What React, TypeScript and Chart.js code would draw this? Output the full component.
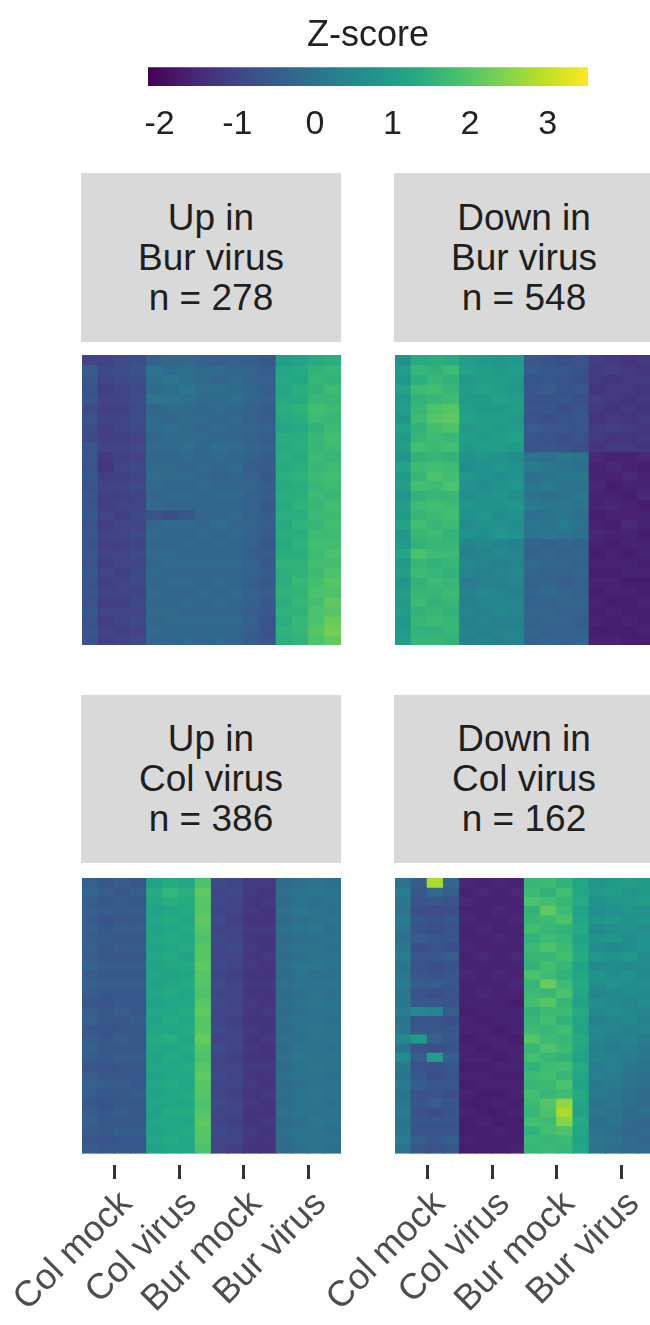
import React, { useEffect, useRef } from "react";
import { Chart, registerables } from "chart.js";

Chart.register(...registerables);

const FONT = "'Liberation Sans', Arial, Helvetica, sans-serif";
Chart.defaults.font.family = FONT;

// ---------------- data ----------------
const conditions = ["Col mock", "Col virus", "Bur mock", "Bur virus"];
const REPS = 4; // replicate sub-columns per condition
const zMin = -2.15;
const zMax = 3.52;
const zTicks = [-2, -1, 0, 1, 2, 3];
const colorbarTitle = "Z-score";
const viridisStops = [
  "#440154", "#482475", "#414487", "#355f8d", "#2a788e", "#21918c",
  "#22a884", "#44bf70", "#7ad151", "#bddf26", "#fde725",
];

const panelTitles = [
  ["Up in", "Bur virus", "n = 278"],
  ["Down in", "Bur virus", "n = 548"],
  ["Up in", "Col virus", "n = 386"],
  ["Down in", "Col virus", "n = 162"],
];

// rows (top to bottom) x 16 sub-columns (4 conditions x 4 replicates), z-scores
const upInBurVirus = [
  [-1.0,-1.0,-0.9,-0.8, -0.4,-0.3,-0.3,-0.4, -0.5,-0.4,-0.5,-0.6, 1.0,1.1,1.3,1.4],
  [-0.5,-0.9,-0.8,-0.7, 0.0,-0.2,-0.1,-0.2, -0.2,-0.3,-0.3,-0.5, 1.2,1.3,1.5,1.6],
  [-0.6,-1.0,-0.9,-0.8, -0.1,0.1,-0.1,-0.2, -0.3,-0.2,-0.4,-0.4, 1.3,1.2,1.6,1.5],
  [-0.7,-1.1,-1.0,-0.9, -0.2,-0.1,0.1,-0.1, -0.1,-0.2,-0.3,-0.5, 1.2,1.4,1.5,1.7],
  [-0.6,-1.0,-1.0,-0.8, 0.1,0.0,-0.1,-0.2, -0.2,-0.1,-0.3,-0.4, 1.3,1.3,1.6,1.6],
  [-0.8,-1.1,-1.1,-0.9, -0.3,-0.2,-0.2,-0.3, -0.2,-0.3,-0.4,-0.5, 1.4,1.5,1.8,1.7],
  [-0.7,-1.0,-1.0,-0.8, -0.2,-0.3,-0.2,-0.2, -0.3,-0.2,-0.4,-0.5, 1.3,1.4,1.7,1.6],
  [-0.8,-1.1,-1.0,-0.9, -0.2,-0.1,-0.2,-0.3, -0.2,-0.3,-0.3,-0.4, 1.2,1.3,1.5,1.7],
  [-0.9,-1.1,-1.1,-1.0, -0.3,-0.2,-0.2,-0.2, -0.3,-0.3,-0.4,-0.5, 1.4,1.4,1.6,1.8],
  [-0.6,-1.0,-1.0,-0.9, -0.2,-0.2,-0.1,-0.3, -0.1,-0.2,-0.3,-0.4, 1.3,1.4,1.6,1.7],
  [-0.6,-1.2,-1.1,-1.0, -0.3,-0.3,-0.2,-0.3, -0.2,-0.3,-0.4,-0.5, 1.4,1.3,1.7,1.6],
  [-0.7,-1.3,-1.0,-0.9, -0.2,-0.2,-0.3,-0.2, -0.3,-0.2,-0.5,-0.5, 1.3,1.4,1.6,1.7],
  [-0.6,-1.1,-1.1,-1.0, -0.1,-0.2,-0.2,-0.3, -0.4,-0.3,-0.4,-0.6, 1.4,1.5,1.7,1.8],
  [-0.7,-1.0,-1.0,-0.9, -0.2,-0.3,-0.3,-0.2, -0.3,-0.3,-0.3,-0.5, 1.3,1.4,1.6,1.7],
  [-0.6,-1.1,-1.1,-1.0, -0.3,-0.2,-0.2,-0.3, -0.2,-0.2,-0.4,-0.5, 1.4,1.4,1.7,1.6],
  [-0.7,-1.1,-1.0,-1.0, -0.2,-0.3,-0.3,-0.3, -0.3,-0.3,-0.4,-0.6, 1.3,1.5,1.6,1.8],
  [-0.6,-1.0,-1.1,-0.9, -0.7,-0.8,-0.6,-0.3, -0.3,-0.2,-0.4,-0.5, 1.4,1.4,1.7,1.7],
  [-0.7,-1.1,-1.0,-1.0, -0.3,-0.2,-0.2,-0.3, -0.1,-0.3,-0.3,-0.5, 1.3,1.5,1.6,1.8],
  [-0.6,-1.0,-1.0,-0.9, -0.2,-0.3,-0.3,-0.2, -0.3,-0.2,-0.4,-0.5, 1.4,1.4,1.7,1.7],
  [-0.7,-1.1,-1.1,-1.0, -0.3,-0.3,-0.2,-0.3, -0.2,-0.3,-0.4,-0.6, 1.3,1.5,1.8,1.8],
  [-0.6,-1.0,-1.0,-0.9, -0.2,-0.2,-0.3,-0.3, -0.3,-0.3,-0.5,-0.5, 1.4,1.4,1.7,1.9],
  [-0.7,-1.1,-1.0,-1.0, -0.3,-0.2,-0.2,-0.2, -0.2,-0.2,-0.4,-0.6, 1.5,1.5,1.8,1.8],
  [-0.6,-1.0,-1.1,-0.9, -0.2,-0.3,-0.3,-0.3, -0.3,-0.3,-0.4,-0.5, 1.4,1.5,1.7,1.9],
  [-0.7,-1.1,-1.0,-0.9, -0.3,-0.2,-0.2,-0.3, -0.2,-0.3,-0.5,-0.6, 1.4,1.6,1.8,2.0],
  [-0.6,-1.0,-1.0,-1.0, -0.2,-0.3,-0.3,-0.2, -0.3,-0.2,-0.4,-0.5, 1.5,1.5,1.9,1.9],
  [-0.7,-1.1,-1.1,-0.9, -0.3,-0.3,-0.2,-0.3, -0.2,-0.3,-0.4,-0.6, 1.4,1.6,1.8,2.1],
  [-0.6,-1.0,-1.0,-1.0, -0.2,-0.2,-0.3,-0.3, -0.3,-0.3,-0.5,-0.6, 1.5,1.5,1.9,2.0],
  [-0.7,-1.1,-1.0,-0.9, -0.3,-0.2,-0.2,-0.2, -0.2,-0.2,-0.4,-0.7, 1.4,1.6,1.9,2.2],
  [-0.6,-1.0,-1.1,-1.0, -0.2,-0.3,-0.3,-0.3, -0.3,-0.3,-0.5,-0.7, 1.5,1.6,2.0,2.3],
  [-0.7,-1.1,-1.0,-0.9, -0.3,-0.3,-0.2,-0.3, -0.2,-0.3,-0.5,-0.6, 1.4,1.5,1.9,2.1],
];

const downInBurVirus = [
  [0.7,1.3,1.4,1.3, 1.0,0.9,0.8,0.9, -0.6,-0.7,-0.8,-0.7, -1.1,-1.2,-1.3,-1.2],
  [1.0,1.6,1.5,1.7, 1.1,1.0,0.9,1.0, -0.5,-0.6,-0.6,-0.7, -1.2,-1.1,-1.2,-1.3],
  [0.8,1.4,1.6,1.5, 0.9,1.0,1.0,0.9, -0.7,-0.6,-0.7,-0.8, -1.2,-1.3,-1.2,-1.2],
  [1.1,1.7,1.8,1.6, 1.0,1.1,1.0,0.8, -0.6,-0.5,-0.7,-0.6, -1.3,-1.2,-1.2,-1.3],
  [0.9,1.5,1.6,1.7, 0.9,0.9,1.1,1.0, -0.7,-0.7,-0.6,-0.8, -1.1,-1.2,-1.3,-1.2],
  [1.0,1.6,1.9,2.0, 1.0,0.9,0.9,1.0, -0.6,-0.6,-0.8,-0.7, -1.2,-1.3,-1.2,-1.3],
  [0.8,1.7,2.0,2.1, 1.1,1.0,1.0,0.9, -0.7,-0.8,-0.7,-0.6, -1.3,-1.2,-1.3,-1.2],
  [1.1,1.5,1.8,1.9, 0.9,1.0,0.9,1.0, -0.5,-0.6,-0.6,-0.7, -1.2,-1.1,-1.2,-1.3],
  [0.9,1.6,1.7,1.6, 1.0,0.9,1.0,1.1, -0.6,-0.7,-0.8,-0.7, -1.2,-1.3,-1.3,-1.2],
  [1.0,1.8,1.7,1.8, 0.9,1.0,1.0,0.9, -0.7,-0.6,-0.7,-0.8, -1.3,-1.2,-1.2,-1.3],
  [0.8,1.5,1.6,1.5, 0.7,0.8,0.7,0.6, 0.0,-0.1,0.1,0.0, -1.5,-1.6,-1.6,-1.5],
  [1.1,1.7,1.8,1.7, 0.6,0.7,0.8,0.7, 0.2,0.1,0.0,-0.1, -1.6,-1.5,-1.6,-1.7],
  [0.9,1.6,1.9,1.8, 0.8,0.7,0.6,0.7, -0.1,0.0,0.1,0.1, -1.6,-1.6,-1.5,-1.6],
  [1.0,1.8,1.7,1.9, 0.7,0.6,0.7,0.8, 0.1,0.2,0.0,0.0, -1.5,-1.7,-1.6,-1.6],
  [0.8,1.5,1.6,1.6, 0.6,0.7,0.8,0.6, 0.0,-0.1,0.0,0.1, -1.6,-1.6,-1.7,-1.5],
  [1.0,1.7,1.8,1.7, 0.8,0.7,0.7,0.8, 0.2,0.1,0.1,0.0, -1.6,-1.5,-1.6,-1.7],
  [0.9,1.6,1.7,1.8, 0.7,0.8,0.6,0.7, -0.1,0.0,0.1,-0.1, -1.7,-1.6,-1.6,-1.6],
  [1.1,1.8,1.6,1.7, 0.6,0.7,0.7,0.6, 0.1,0.0,0.2,0.0, -1.6,-1.7,-1.5,-1.6],
  [0.8,1.6,1.7,1.5, 0.7,0.6,0.8,0.7, 0.0,0.1,0.0,-0.1, -1.5,-1.6,-1.6,-1.7],
  [0.9,1.5,1.6,1.6, 0.4,0.5,0.4,0.3, -0.3,-0.4,-0.3,-0.4, -1.6,-1.7,-1.6,-1.6],
  [1.2,1.9,1.7,1.7, 0.3,0.4,0.5,0.4, -0.4,-0.3,-0.4,-0.3, -1.7,-1.6,-1.7,-1.6],
  [0.9,1.6,1.5,1.6, 0.5,0.4,0.3,0.4, -0.2,-0.3,-0.3,-0.4, -1.6,-1.6,-1.6,-1.7],
  [1.0,1.7,1.6,1.5, 0.4,0.3,0.4,0.5, -0.3,-0.4,-0.4,-0.3, -1.7,-1.7,-1.6,-1.6],
  [0.8,1.5,1.7,1.6, 0.2,0.3,0.3,0.4, -0.4,-0.3,-0.5,-0.4, -1.6,-1.6,-1.7,-1.7],
  [1.0,1.6,1.6,1.7, 0.4,0.5,0.4,0.3, -0.3,-0.2,-0.3,-0.4, -1.7,-1.6,-1.6,-1.7],
  [0.9,1.7,1.5,1.6, 0.3,0.4,0.4,0.4, -0.4,-0.4,-0.3,-0.3, -1.6,-1.7,-1.7,-1.6],
  [1.0,1.5,1.6,1.5, 0.4,0.3,0.5,0.4, -0.3,-0.3,-0.4,-0.4, -1.7,-1.6,-1.7,-1.7],
  [0.8,1.6,1.7,1.6, 0.3,0.4,0.3,0.3, -0.4,-0.3,-0.3,-0.5, -1.6,-1.7,-1.6,-1.7],
  [0.9,1.5,1.5,1.6, 0.4,0.3,0.4,0.4, -0.3,-0.4,-0.4,-0.4, -1.7,-1.7,-1.7,-1.6],
  [1.0,1.6,1.6,1.5, 0.3,0.4,0.3,0.4, -0.4,-0.3,-0.4,-0.3, -1.6,-1.6,-1.7,-1.7],
];

const upInColVirus = [
  [-0.4,-0.6,-0.5,-0.6, 1.1,1.3,1.2,1.9, -0.9,-1.0,-1.2,-1.2, -0.2,-0.1,0.0,-0.1],
  [-0.3,-0.5,-0.6,-0.5, 1.3,1.6,1.4,2.1, -1.0,-0.9,-1.2,-1.3, -0.1,0.0,0.1,0.0],
  [-0.5,-0.6,-0.5,-0.6, 1.2,1.4,1.3,2.0, -0.9,-1.0,-1.3,-1.2, -0.2,0.0,-0.1,0.0],
  [-0.4,-0.5,-0.5,-0.5, 1.1,1.2,1.3,2.0, -1.0,-1.0,-1.2,-1.3, -0.1,0.1,0.0,-0.1],
  [-0.5,-0.7,-0.6,-0.6, 1.2,1.3,1.2,2.1, -0.9,-1.1,-1.3,-1.3, -0.2,-0.1,0.0,0.0],
  [-0.4,-0.6,-0.5,-0.5, 1.1,1.2,1.3,2.0, -1.0,-1.0,-1.2,-1.2, -0.1,0.0,0.1,-0.1],
  [-0.5,-0.5,-0.6,-0.6, 1.2,1.3,1.2,1.9, -0.9,-1.0,-1.3,-1.3, -0.2,-0.1,-0.1,0.0],
  [-0.4,-0.6,-0.5,-0.5, 1.1,1.2,1.3,2.0, -1.0,-0.9,-1.2,-1.3, -0.1,0.0,0.0,-0.1],
  [-0.5,-0.6,-0.6,-0.6, 1.2,1.3,1.1,2.0, -1.0,-1.0,-1.3,-1.2, -0.2,-0.1,0.0,0.0],
  [-0.3,-0.5,-0.5,-0.5, 1.1,1.2,1.3,2.1, -0.9,-1.0,-1.2,-1.3, -0.1,0.1,0.1,0.0],
  [-0.5,-0.6,-0.6,-0.6, 1.2,1.1,1.2,2.0, -1.0,-1.1,-1.3,-1.3, -0.2,0.0,-0.1,-0.1],
  [-0.4,-0.5,-0.5,-0.5, 1.1,1.2,1.3,2.0, -0.9,-1.0,-1.2,-1.2, -0.1,0.0,0.0,0.0],
  [-0.5,-0.6,-0.6,-0.6, 1.2,1.3,1.2,1.9, -1.0,-1.0,-1.3,-1.3, -0.2,-0.1,0.0,-0.1],
  [-0.6,-0.7,-0.6,-0.6, 1.1,1.2,1.2,2.0, -0.9,-1.0,-1.2,-1.3, -0.1,0.0,0.1,0.0],
  [-0.5,-0.6,-0.5,-0.6, 1.2,1.2,1.3,2.1, -1.0,-1.0,-1.3,-1.2, -0.2,-0.1,0.0,0.0],
  [-0.4,-0.6,-0.6,-0.5, 1.1,1.3,1.2,2.0, -1.0,-1.1,-1.3,-1.3, -0.1,0.0,0.0,-0.1],
  [-0.6,-0.7,-0.6,-0.6, 1.2,1.2,1.3,2.0, -0.9,-1.0,-1.2,-1.3, -0.2,0.0,0.1,0.0],
  [-0.5,-0.6,-0.5,-0.6, 1.3,1.4,1.2,2.2, -1.0,-1.0,-1.3,-1.2, -0.1,-0.1,0.0,0.0],
  [-0.4,-0.6,-0.6,-0.6, 1.2,1.2,1.3,2.0, -0.9,-1.0,-1.2,-1.3, -0.2,0.0,0.0,-0.1],
  [-0.5,-0.6,-0.5,-0.5, 1.1,1.3,1.2,1.9, -1.0,-1.1,-1.3,-1.3, -0.1,0.1,0.0,0.0],
  [-0.6,-0.7,-0.6,-0.6, 1.2,1.2,1.3,2.0, -1.0,-1.0,-1.2,-1.2, -0.2,0.0,0.1,0.0],
  [-0.5,-0.6,-0.6,-0.6, 1.1,1.2,1.2,2.1, -0.9,-1.0,-1.3,-1.3, -0.1,0.0,0.0,-0.1],
  [-0.4,-0.5,-0.5,-0.6, 1.2,1.3,1.2,2.0, -1.0,-1.0,-1.2,-1.3, -0.2,-0.1,0.0,0.0],
  [-0.5,-0.6,-0.6,-0.5, 1.1,1.2,1.3,2.0, -1.0,-1.1,-1.3,-1.2, -0.1,0.0,0.1,0.0],
  [-0.6,-0.7,-0.6,-0.6, 1.2,1.2,1.2,1.9, -0.9,-1.0,-1.2,-1.3, -0.2,0.0,0.0,-0.1],
  [-0.5,-0.6,-0.5,-0.6, 1.1,1.3,1.3,2.0, -1.0,-1.0,-1.3,-1.3, -0.1,0.0,0.0,0.0],
  [-0.4,-0.6,-0.6,-0.6, 1.2,1.2,1.2,2.1, -1.0,-1.1,-1.3,-1.2, -0.2,-0.1,0.1,0.0],
  [-0.5,-0.6,-0.5,-0.5, 1.1,1.2,1.3,2.0, -0.9,-1.0,-1.2,-1.3, -0.1,0.0,0.0,-0.1],
  [-0.6,-0.7,-0.6,-0.6, 1.2,1.3,1.2,2.0, -1.0,-1.0,-1.3,-1.3, -0.2,0.0,0.0,0.0],
  [-0.5,-0.6,-0.6,-0.6, 1.1,1.2,1.2,1.9, -1.0,-1.1,-1.3,-1.3, -0.2,-0.1,0.0,-0.1],
];

const downInColVirus = [
  [0.0,-0.5,2.8,-0.3, -1.5,-1.6,-1.5,-1.6, 1.6,1.7,1.5,1.2, 0.8,0.9,1.0,0.9],
  [0.2,-0.6,-0.2,-0.5, -1.6,-1.5,-1.6,-1.5, 1.7,1.5,1.8,1.2, 0.9,1.0,0.8,0.9],
  [0.1,-0.7,-0.6,-0.7, -1.5,-1.6,-1.6,-1.6, 1.9,1.8,1.6,1.3, 0.7,0.8,0.9,1.0],
  [0.0,-0.8,-0.9,-0.8, -1.6,-1.6,-1.5,-1.6, 1.5,2.1,1.7,1.1, 0.6,0.7,0.8,0.7],
  [0.2,-0.6,-0.7,-0.6, -1.5,-1.6,-1.6,-1.5, 1.6,1.7,1.9,1.2, 0.8,0.9,0.7,0.8],
  [0.1,-0.7,-0.8,-0.7, -1.6,-1.5,-1.6,-1.6, 1.8,1.6,1.5,1.3, 0.5,0.6,0.7,0.6],
  [-0.1,-0.5,-0.6,-0.6, -1.6,-1.6,-1.5,-1.6, 1.5,1.7,1.6,1.1, 0.7,0.8,0.6,0.7],
  [0.1,-0.8,-0.7,-0.8, -1.5,-1.6,-1.6,-1.6, 1.7,1.9,1.7,1.2, 0.6,0.5,0.6,0.7],
  [0.2,-0.6,-0.6,-0.5, -1.6,-1.5,-1.6,-1.5, 1.6,1.6,1.8,1.3, 0.8,0.7,0.8,0.6],
  [0.0,-0.7,-0.8,-0.7, -1.6,-1.6,-1.6,-1.6, 1.5,1.8,1.6,1.1, 0.5,0.6,0.5,0.6],
  [0.1,-0.6,-0.7,-0.6, -1.5,-1.6,-1.5,-1.6, 1.9,1.7,1.5,1.2, 0.7,0.6,0.7,0.5],
  [0.2,-0.5,-0.5,-0.6, -1.6,-1.6,-1.6,-1.5, 1.6,2.2,1.7,1.3, 0.6,0.7,0.6,0.6],
  [0.0,-0.7,-0.8,-0.7, -1.6,-1.5,-1.6,-1.6, 1.7,1.6,1.9,1.2, 0.4,0.5,0.6,0.5],
  [0.1,-0.6,-0.6,-0.7, -1.6,-1.6,-1.6,-1.7, 1.8,2.0,1.6,1.1, 0.6,0.5,0.4,0.6],
  [0.2,0.5,0.4,-0.5, -1.7,-1.6,-1.6,-1.6, 1.5,1.7,1.7,1.3, 0.5,0.6,0.5,0.4],
  [0.0,-0.7,-0.7,-0.8, -1.6,-1.7,-1.6,-1.6, 1.6,1.8,1.5,1.2, 0.3,0.4,0.5,0.3],
  [0.1,-0.6,-0.6,-0.6, -1.6,-1.6,-1.7,-1.6, 1.7,1.6,1.8,1.1, 0.5,0.4,0.3,0.4],
  [0.5,0.9,-0.4,-0.6, -1.7,-1.6,-1.6,-1.7, 2.0,1.7,1.6,1.3, 0.4,0.3,0.4,0.2],
  [0.0,-0.7,-0.8,-0.7, -1.6,-1.7,-1.6,-1.6, 1.6,1.9,1.7,1.2, 0.3,0.2,0.3,0.1],
  [0.6,-0.5,1.0,-0.5, -1.6,-1.6,-1.7,-1.6, 1.8,1.6,1.5,1.1, 0.4,0.3,0.2,0.1],
  [0.1,-0.7,-0.7,-0.6, -1.7,-1.7,-1.6,-1.6, 1.5,1.7,1.8,1.3, 0.2,0.3,0.1,0.0],
  [0.0,-0.6,-0.8,-0.7, -1.6,-1.6,-1.7,-1.7, 1.7,1.8,1.6,1.2, 0.3,0.2,0.0,-0.1],
  [0.2,-0.5,-0.6,-0.6, -1.7,-1.6,-1.6,-1.6, 1.6,1.7,1.9,1.1, 0.1,0.2,0.0,-0.1],
  [0.0,-0.7,-0.7,-0.8, -1.6,-1.7,-1.7,-1.6, 1.8,1.6,1.7,1.3, 0.2,0.1,-0.1,-0.2],
  [0.1,-0.6,-0.5,-0.6, -1.7,-1.7,-1.6,-1.7, 1.7,2.0,2.6,1.2, 0.0,0.1,-0.1,-0.2],
  [0.2,-0.7,-0.8,-0.7, -1.6,-1.7,-1.7,-1.6, 1.6,1.9,2.8,1.1, 0.1,0.0,-0.2,-0.1],
  [0.0,-0.6,-0.6,-0.6, -1.7,-1.6,-1.7,-1.7, 1.8,1.7,2.5,1.3, -0.1,0.0,-0.2,-0.3],
  [0.1,-0.7,-0.7,-0.7, -1.7,-1.7,-1.6,-1.7, 1.5,1.8,1.9,1.2, 0.0,-0.1,-0.3,-0.2],
  [0.2,-0.5,-0.6,-0.5, -1.6,-1.7,-1.7,-1.7, 1.7,1.6,1.7,1.1, 0.1,0.0,-0.2,-0.3],
  [0.0,-0.6,-0.7,-0.6, -1.7,-1.7,-1.7,-1.6, 1.6,1.7,1.6,1.2, 0.0,-0.1,-0.2,-0.2],
];

// ---------------- colour scale ----------------
function hexToRgb(h: string) {
  const n = parseInt(h.slice(1), 16);
  return [(n >> 16) & 255, (n >> 8) & 255, n & 255];
}
const stopRgb = viridisStops.map(hexToRgb);
function viridis(z: number) {
  let t = (z - zMin) / (zMax - zMin);
  t = Math.max(0, Math.min(1, t));
  const p = t * (stopRgb.length - 1);
  const i = Math.min(stopRgb.length - 2, Math.floor(p));
  const f = p - i;
  const a = stopRgb[i];
  const b = stopRgb[i + 1];
  const c = a.map((v, k) => Math.round(v + (b[k] - v) * f));
  return `rgb(${c[0]},${c[1]},${c[2]})`;
}

// ---------------- layout ----------------
const STRIP_W = 260;
const HEAT_W = 259;
const LEFT_STRIP_X = 81;
const RIGHT_STRIP_X = 394;
const LEFT_HEAT_X = 82;
const RIGHT_HEAT_X = 395;
const TOP_STRIP_Y = 173;
const TOP_STRIP_H = 169;
const BOT_STRIP_Y = 695;
const BOT_STRIP_H = 168;
const TOP_HEAT_Y = 355;
const TOP_HEAT_H = 290;
const BOT_HEAT_Y = 878;
const BOT_HEAT_H = 275;
const TICK_GAP = 12;
const PAGE_H = 1325;
const BOT_CANVAS_H = PAGE_H - BOT_HEAT_Y;
const AXIS_H = BOT_CANVAS_H - BOT_HEAT_H - TICK_GAP;

function heatmapConfig(rows: number[][], withAxis: boolean, heatPx: number, padL: number, padR: number): any {
  const nRows = rows.length;
  const nCols = conditions.length * REPS;
  const datasets = rows.map((row, r) => ({
    data: row.map((z, c) => ({ x: c + 0.5, y: [r, r + 1] })),
    backgroundColor: row.map((z) => viridis(z)),
    borderWidth: 0,
    grouped: false,
    barPercentage: 1,
    categoryPercentage: 1,
    inflateAmount: 0.6,
  }));
  const yMax = withAxis ? (nRows * (heatPx + TICK_GAP)) / heatPx : nRows;
  return {
    type: "bar",
    data: { datasets },
    options: {
      responsive: false,
      animation: false,
      events: [],
      layout: { padding: { left: padL, right: padR, top: 0, bottom: 0 } },
      plugins: { legend: { display: false }, tooltip: { enabled: false }, title: { display: false } },
      scales: {
        x: {
          type: "linear",
          min: 0,
          max: nCols,
          offset: false,
          display: withAxis,
          afterBuildTicks: (s: any) => {
            s.ticks = conditions.map((_, i) => ({ value: i * REPS + REPS / 2 }));
          },
          afterFit: (s: any) => {
            if (!withAxis) return;
            s.height = AXIS_H;
            s.paddingLeft = 0;
            s.paddingRight = 0;
          },
          ticks: {
            autoSkip: false,
            minRotation: 45,
            maxRotation: 45,
            padding: 4,
            labelOffset: 12,
            color: "#4d4d4d",
            font: { size: 36, family: FONT },
            callback: (_v: any, i: number) => conditions[i],
          },
          grid: {
            display: true,
            drawOnChartArea: false,
            drawTicks: true,
            tickLength: 14,
            tickWidth: 3,
            tickColor: "#333333",
            offset: false,
          },
          border: { display: false },
        },
        y: {
          type: "linear",
          reverse: true,
          min: 0,
          max: yMax,
          display: false,
        },
      },
    },
  };
}

function colorbarConfig(): any {
  const tickAxis = (position: string, showLabels: boolean) => ({
    type: "linear",
    position,
    min: zMin,
    max: zMax,
    afterBuildTicks: (s: any) => {
      s.ticks = zTicks.map((v) => ({ value: v }));
    },
    afterFit: (s: any) => {
      s.height = showLabels ? 74 : 0;
    },
    ticks: {
      display: showLabels,
      padding: 22,
      color: "#222222",
      font: { size: 34, family: FONT },
      callback: (v: any) => String(v),
    },
    grid: {
      drawOnChartArea: false,
      drawTicks: true,
      tickLength: -4,
      tickWidth: 1.5,
      tickColor: "#ffffff",
    },
    border: { display: false },
  });
  return {
    type: "bar",
    data: {
      labels: [""],
      datasets: [
        {
          data: [[zMin, zMax]],
          borderWidth: 0,
          barPercentage: 1,
          categoryPercentage: 1,
          backgroundColor: (ctx: any) => {
            const chart = ctx.chart;
            const xs = chart.scales && chart.scales.x;
            if (!chart.chartArea || !xs) return viridis(0.5);
            const g = chart.ctx.createLinearGradient(xs.getPixelForValue(zMin), 0, xs.getPixelForValue(zMax), 0);
            viridisStops.forEach((c, i) => g.addColorStop(i / (viridisStops.length - 1), c));
            return g;
          },
        },
      ],
    },
    options: {
      indexAxis: "y",
      responsive: false,
      animation: false,
      events: [],
      layout: { padding: { left: 60, right: 60, top: 0, bottom: 0 } },
      plugins: {
        legend: { display: false },
        tooltip: { enabled: false },
        title: {
          display: true,
          text: colorbarTitle,
          color: "#222222",
          font: { size: 36, weight: "normal", family: FONT },
          padding: { top: 14, bottom: 10 },
        },
      },
      scales: {
        y: { display: false },
        x: tickAxis("bottom", true),
        x2: tickAxis("top", false),
      },
    },
  };
}

function ChartCanvas({ left, top, width, height, make }: any) {
  const ref = useRef<HTMLCanvasElement | null>(null);
  useEffect(() => {
    if (!ref.current) return;
    const chart = new Chart(ref.current, make());
    return () => chart.destroy();
  }, []);
  return (
    <div style={{ position: "absolute", left, top, width, height }}>
      <canvas ref={ref} width={width} height={height} style={{ display: "block", width, height }} />
    </div>
  );
}

function Strip({ left, top, height, lines }: any) {
  return (
    <div
      style={{
        position: "absolute",
        left,
        top,
        width: STRIP_W,
        height,
        background: "#d9d9d9",
        display: "flex",
        flexDirection: "column",
        justifyContent: "center",
        alignItems: "center",
        color: "#1f1f1f",
        fontFamily: FONT,
        fontSize: 37,
        lineHeight: "40px",
        textAlign: "center",
        whiteSpace: "nowrap",
      }}
    >
      {lines.map((l: string, i: number) => (
        <div key={i}>{l}</div>
      ))}
    </div>
  );
}

export default function App() {
  return (
    <div
      style={{
        position: "absolute",
        left: 0,
        top: 0,
        width: 650,
        height: PAGE_H,
        overflow: "hidden",
        background: "#ffffff",
      }}
    >
      <ChartCanvas left={88} top={0} width={560} height={160} make={colorbarConfig} />

      <Strip left={LEFT_STRIP_X} top={TOP_STRIP_Y} height={TOP_STRIP_H} lines={panelTitles[0]} />
      <Strip left={RIGHT_STRIP_X} top={TOP_STRIP_Y} height={TOP_STRIP_H} lines={panelTitles[1]} />
      <Strip left={LEFT_STRIP_X} top={BOT_STRIP_Y} height={BOT_STRIP_H} lines={panelTitles[2]} />
      <Strip left={RIGHT_STRIP_X} top={BOT_STRIP_Y} height={BOT_STRIP_H} lines={panelTitles[3]} />

      <ChartCanvas
        left={LEFT_HEAT_X}
        top={TOP_HEAT_Y}
        width={HEAT_W}
        height={TOP_HEAT_H}
        make={() => heatmapConfig(upInBurVirus, false, TOP_HEAT_H, 0, 0)}
      />
      <ChartCanvas
        left={RIGHT_HEAT_X}
        top={TOP_HEAT_Y}
        width={HEAT_W}
        height={TOP_HEAT_H}
        make={() => heatmapConfig(downInBurVirus, false, TOP_HEAT_H, 0, 0)}
      />
      <ChartCanvas
        left={0}
        top={BOT_HEAT_Y}
        width={LEFT_HEAT_X + HEAT_W + 19}
        height={BOT_CANVAS_H}
        make={() => heatmapConfig(upInColVirus, true, BOT_HEAT_H, LEFT_HEAT_X, 19)}
      />
      <ChartCanvas
        left={300}
        top={BOT_HEAT_Y}
        width={RIGHT_HEAT_X - 300 + HEAT_W + 26}
        height={BOT_CANVAS_H}
        make={() => heatmapConfig(downInColVirus, true, BOT_HEAT_H, RIGHT_HEAT_X - 300, 26)}
      />
    </div>
  );
}
